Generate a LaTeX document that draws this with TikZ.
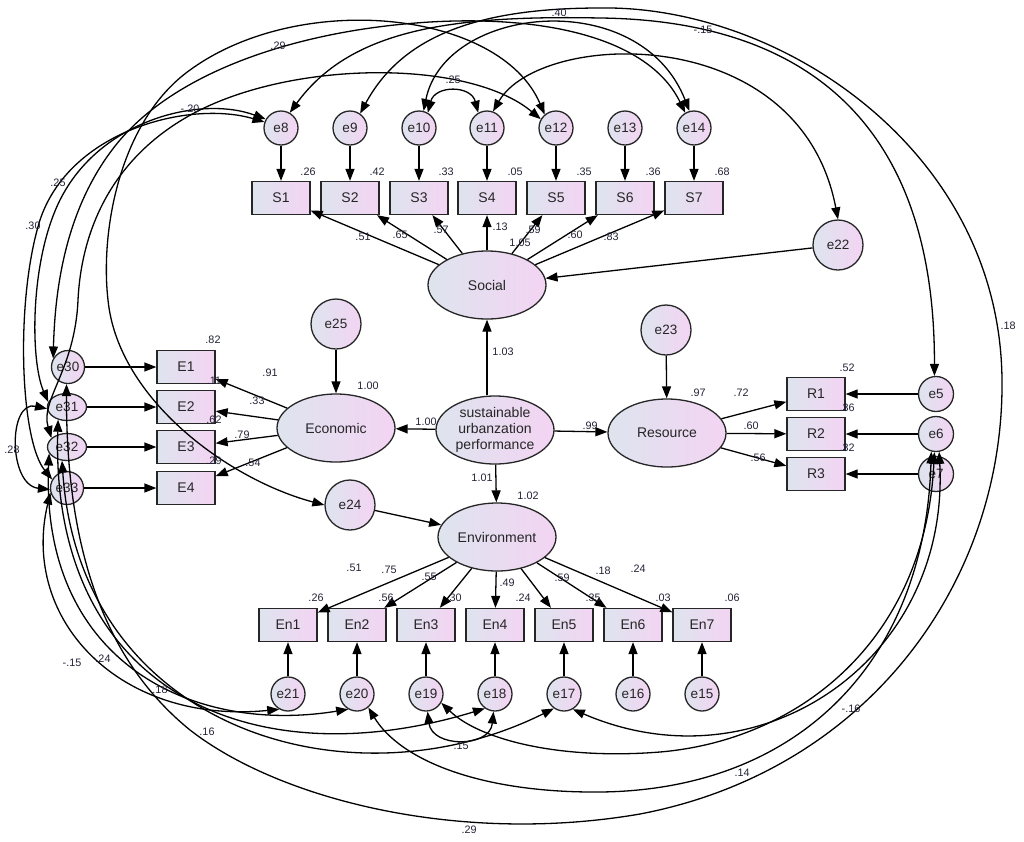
\documentclass[tikz,border=0pt]{standalone}
\usepackage{fontspec}
\setmainfont{Liberation Sans}
\usetikzlibrary{arrows.meta,shapes.geometric}
\definecolor{cl}{RGB}{222,228,238}
\definecolor{cr}{RGB}{243,212,243}
\definecolor{tx}{RGB}{35,35,55}
\begin{document}
\begin{tikzpicture}[x=1pt,y=-1pt,
 base/.style={draw=black!85, line width=1.3pt, left color=cl, right color=cr, inner sep=0pt, text=black!85},
 obs/.style={base, rectangle, minimum width=58pt, minimum height=33pt, font=\fontsize{14}{16}\selectfont},
 err/.style={base, circle, minimum size=34pt, font=\fontsize{13.5}{15}\selectfont},
 errb/.style={base, circle, minimum size=50pt, font=\fontsize{13.5}{15}\selectfont},
 erre/.style={base, ellipse, minimum width=39pt, minimum height=27pt, font=\fontsize{13.5}{15}\selectfont},
 lat/.style={base, ellipse, minimum width=118pt, minimum height=68pt, font=\fontsize{14}{15.7}\selectfont, align=center},
 lab/.style={inner sep=0pt, font=\fontsize{10.8}{12}\selectfont, text=tx},
 reg/.style={line width=1.3pt, -{Triangle[length=12pt,width=9pt]}},
 cov/.style={line width=1.3pt, {Triangle[length=12pt,width=9pt]}-{Triangle[length=12pt,width=9pt]}},
]
\fill[white] (0,0) rectangle (1024,841);
\useasboundingbox (0,0) rectangle (1024,841);

% ---- Social block
\node[err] (e8)  at (281,128) {e8};
\node[err] (e9)  at (350,128) {e9};
\node[err] (e10) at (419,128) {e10};
\node[err] (e11) at (487,128) {e11};
\node[err] (e12) at (556,128) {e12};
\node[err] (e13) at (625,128) {e13};
\node[err] (e14) at (694,128) {e14};
\node[obs] (S1) at (281,198) {S1};
\node[obs] (S2) at (350,198) {S2};
\node[obs] (S3) at (419,198) {S3};
\node[obs] (S4) at (487,198) {S4};
\node[obs] (S5) at (556,198) {S5};
\node[obs] (S6) at (625,198) {S6};
\node[obs] (S7) at (694,198) {S7};
\node[lat] (Social) at (487,285) {Social};
\node[errb] (e22) at (838,245) {e22};

% ---- centre
\node[lat] (SUP) at (495,430) {sustainable\\urbanzation\\performance};
\node[lat] (Economic) at (336,428) {Economic};
\node[errb] (e25) at (336,324) {e25};
\node[lat] (Resource) at (667,433) {Resource};
\node[errb] (e23) at (666,330) {e23};
\node[lat] (Environment) at (497,537) {Environment};
\node[errb] (e24) at (350,505) {e24};

% ---- Resource block
\node[obs] (R1) at (816,394) {R1};
\node[obs] (R2) at (816,434) {R2};
\node[obs] (R3) at (816,474) {R3};
\node[err, minimum size=35pt] (e5) at (936,394) {e5};
\node[err, minimum size=35pt] (e6) at (936,434) {e6};
\node[err, minimum size=35pt] (e7) at (936,474) {e7};

% ---- Economic block
\node[obs] (E1) at (186,367) {E1};
\node[obs] (E2) at (186,407) {E2};
\node[obs] (E3) at (186,447) {E3};
\node[obs] (E4) at (186,488) {E4};
\node[err, minimum size=33pt] (e30) at (68,367) {e30};
\node[erre] (e31) at (67,407) {e31};
\node[erre] (e32) at (67,447) {e32};
\node[err, minimum size=33pt] (e33) at (67,488) {e33};

% ---- Environment block
\node[obs] (En1) at (288,625) {En1};
\node[obs] (En2) at (357,625) {En2};
\node[obs] (En3) at (426,625) {En3};
\node[obs] (En4) at (495,625) {En4};
\node[obs] (En5) at (564,625) {En5};
\node[obs] (En6) at (633,625) {En6};
\node[obs] (En7) at (702,625) {En7};
\node[err] (e21) at (288,694) {e21};
\node[err] (e20) at (357,694) {e20};
\node[err] (e19) at (426,694) {e19};
\node[err] (e18) at (495,694) {e18};
\node[err] (e17) at (564,694) {e17};
\node[err] (e16) at (633,694) {e16};
\node[err] (e15) at (702,694) {e15};

% ---- regression paths
\foreach \a/\b in {e8/S1,e9/S2,e10/S3,e11/S4,e12/S5,e13/S6,e14/S7,
  Social/S1,Social/S2,Social/S3,Social/S4,Social/S5,Social/S6,Social/S7,e22/Social,
  SUP/Economic,SUP/Resource,SUP/Environment,e25/Economic,e23/Resource,e24/Environment,
  Economic/E1,Economic/E2,Economic/E3,Economic/E4,e30/E1,e31/E2,e32/E3,e33/E4,
  Resource/R1,Resource/R2,Resource/R3,e5/R1,e6/R2,e7/R3,
  Environment/En1,Environment/En2,Environment/En3,Environment/En4,Environment/En5,Environment/En6,Environment/En7,
  e21/En1,e20/En2,e19/En3,e18/En4,e17/En5,e16/En6,e15/En7}
  \draw[reg] (\a) -- (\b);
\draw[reg] (SUP.north -| Social.south) -- (Social.south);

% ---- covariances
\draw[cov] (e10.60) .. controls (435,85) and (471,85) .. (e11.120);
\draw[cov] (e10.75) .. controls (445,5) and (640,-15) .. (e14.105);
\draw[cov] (e11.70) .. controls (540,30) and (800,20) .. (e22.90);
\draw[cov] (e8.60) .. controls (350,30) and (450,15) .. (600,18) .. controls (780,20) and (935,100) .. (e5.95);
\draw[cov] (e9.55) .. controls (400,40) and (470,8) .. (600,8) .. controls (780,5) and (1000,150) .. (1002,380)
   .. controls (1004,580) and (870,770) .. (640,814) .. controls (460,845) and (280,800) .. (190,730)
   .. controls (110,665) and (66,560) .. (e30.-95);
\draw[cov] (e12.130) .. controls (500,10) and (300,-10) .. (190,70) .. controls (120,120) and (100,230) .. (108,300)
   .. controls (118,400) and (230,480) .. (e24.west);
\draw[cov] (e12.150) .. controls (470,60) and (300,60) .. (200,110) .. controls (120,150) and (82,220) .. (78,300)
   .. controls (75,370) and (40,400) .. (e32.150);
\draw[cov] (e14.120) .. controls (650,40) and (550,15) .. (430,22) .. controls (300,30) and (180,70) .. (120,140)
   .. controls (65,205) and (55,290) .. (e30.150);
\draw[cov] (e8.150) .. controls (200,95) and (100,120) .. (60,200) .. controls (30,260) and (30,360) .. (e31.165);
\draw[cov] (e8.160) .. controls (190,100) and (70,130) .. (40,220) .. controls (15,300) and (20,440) .. (e33.150);
\draw[cov] (e31.185) .. controls (8,400) and (8,485) .. (e33.185);
\draw[cov] (e33.195) .. controls (20,620) and (120,725) .. (e21.240);
\draw[cov] (e32.200) .. controls (40,660) and (190,735) .. (e20.240);
\draw[cov] (e31.235) .. controls (50,690) and (250,780) .. (e18.235);
\draw[cov] (e32.250) .. controls (80,730) and (350,810) .. (e17.235);
\draw[cov] (e6.-80) .. controls (950,660) and (760,790) .. (e17.-60);
\draw[cov] (e6.-95) .. controls (925,640) and (800,740) .. (660,752) .. controls (560,760) and (480,740) .. (e19.-30);
\draw[cov] (e6.-105) .. controls (925,660) and (800,790) .. (600,792) .. controls (480,793) and (400,760) .. (e20.-50);
\draw[cov] (e19.-85) .. controls (432,748) and (490,748) .. (e18.-95);

% ---- labels: squared multiple correlations
\node[lab] (q1) at (308,172) {.26};
\node[lab] (q2) at (377,172) {.42};
\node[lab] (q3) at (446,172) {.33};
\node[lab] (q4) at (515,172) {.05};
\node[lab] (q5) at (584,172) {.35};
\node[lab] (q6) at (653,172) {.36};
\node[lab] (q7) at (722,172) {.68};
\node[lab] (q8) at (213,340) {.82};
\node[lab] (q9) at (214,381) {.11};
\node[lab] (q10) at (214,420) {.62};
\node[lab] (q11) at (214,461) {.29};
\node[lab] (q12) at (847,368) {.52};
\node[lab] (q13) at (847,408) {.36};
\node[lab] (q14) at (847,448) {.32};
\node[lab] (q15) at (316,598) {.26};
\node[lab] (q16) at (386,598) {.56};
\node[lab] (q17) at (454,598) {.30};
\node[lab] (q18) at (523,598) {.24};
\node[lab] (q19) at (593,598) {.35};
\node[lab] (q20) at (663,598) {.03};
\node[lab] (q21) at (732,598) {.06};
\node[lab] (q22) at (368,386) {1.00};
\node[lab] (q23) at (528,496) {1.02};
\node[lab] (q24) at (698,393) {.97};
% ---- labels: loadings
\node[lab] (w1) at (363,237) {.51};
\node[lab] (w2) at (400,235) {.65};
\node[lab] (w3) at (441,230) {.57};
\node[lab] (w4) at (500,227) {.13};
\node[lab] (w5) at (533,230) {.59};
\node[lab] (w6) at (520,243) {1.05};
\node[lab] (w7) at (575,235) {.60};
\node[lab] (w8) at (611,237) {.83};
\node[lab] (w9) at (270,373) {.91};
\node[lab] (w10) at (257,401) {.33};
\node[lab] (w11) at (242,435) {.79};
\node[lab] (w12) at (253,463) {.54};
\node[lab] (w13) at (426,422) {1.00};
\node[lab] (w14) at (503,352) {1.03};
\node[lab] (w15) at (482,478) {1.01};
\node[lab] (w16) at (590,426) {.99};
\node[lab] (w17) at (741,393) {.72};
\node[lab] (w18) at (751,426) {.60};
\node[lab] (w19) at (758,458) {.56};
\node[lab] (w20) at (354,568) {.51};
\node[lab] (w21) at (389,570) {.75};
\node[lab] (w22) at (429,577) {.55};
\node[lab] (w23) at (507,583) {.49};
\node[lab] (w24) at (562,578) {.59};
\node[lab] (w25) at (603,571) {.18};
\node[lab] (w26) at (638,569) {.24};
% ---- labels: covariances
\node[lab] (c1) at (278,46) {.29};
\node[lab] (c2) at (559,13) {.40};
\node[lab] (c3) at (703,30) {-.15};
\node[lab] (c4) at (453,80) {.25};
\node[lab] (c5) at (190,109) {-.20};
\node[lab] (c6) at (58,183) {.25};
\node[lab] (c7) at (33,226) {.30};
\node[lab] (c8) at (12,450) {.28};
\node[lab] (c9) at (1008,326) {.18};
\node[lab] (c10) at (72,663) {-.15};
\node[lab] (c11) at (103,659) {.24};
\node[lab] (c12) at (160,690) {.18};
\node[lab] (c13) at (207,732) {.16};
\node[lab] (c14) at (461,746) {.15};
\node[lab] (c15) at (469,830) {.29};
\node[lab] (c16) at (742,773) {.14};
\node[lab] (c17) at (851,709) {-.16};
\end{tikzpicture}
\end{document}
